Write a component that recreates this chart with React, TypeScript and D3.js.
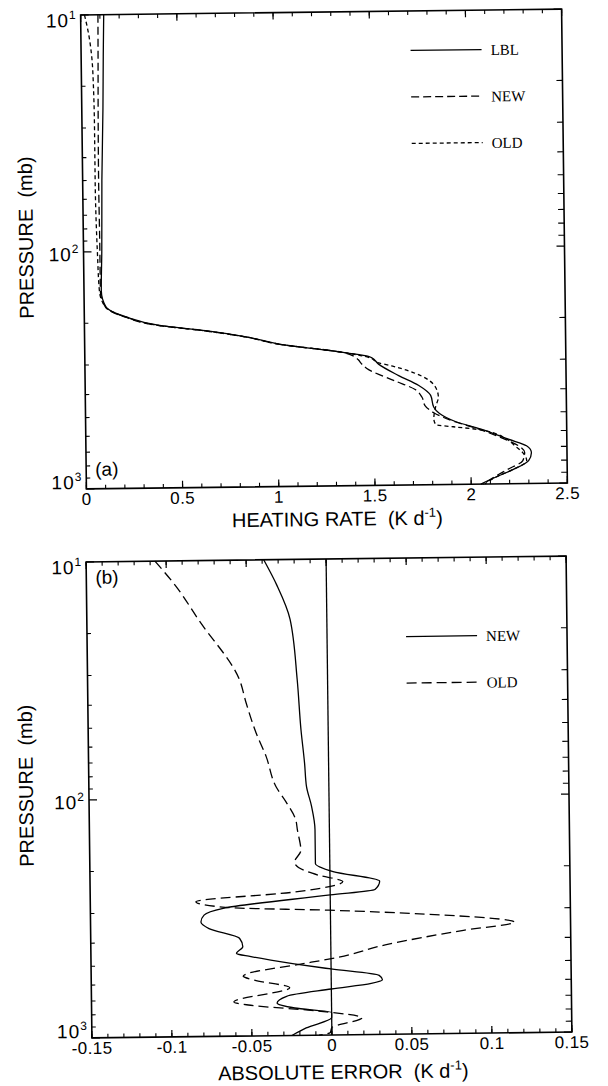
import React from "react";
import * as d3 from "d3";

// shared pressure axis (mb), log scale, 10 at top
const pressureTicks = [10, 100, 1000];
const pressureExp = ["1", "2", "3"];

// (a) heating rate profiles, K/day
const heatTicks = [0, 0.5, 1, 1.5, 2, 2.5];

const lblP = [10, 15, 25, 50, 100, 146, 171, 189, 206, 218, 234, 250, 275, 285, 289, 308, 345, 381, 420, 470, 501, 544, 585, 650, 693, 740, 800, 870, 935, 1000];
const lblRate = [0.12, 0.115, 0.11, 0.1, 0.095, 0.09, 0.113, 0.217, 0.39, 0.63, 0.855, 1.005, 1.36, 1.474, 1.49, 1.526, 1.63, 1.734, 1.795, 1.81, 1.84, 1.925, 2.05, 2.2, 2.29, 2.315, 2.3, 2.22, 2.13, 2.05];

const newP = [10, 15, 25, 50, 100, 146, 171, 189, 206, 218, 234, 250, 275, 285, 294, 308, 321, 363, 396, 427, 463, 497, 544, 585, 650, 693, 740, 800, 870, 935, 1000];
const newRate = [0.09, 0.088, 0.085, 0.083, 0.085, 0.085, 0.11, 0.21, 0.38, 0.62, 0.85, 1.0, 1.35, 1.4, 1.42, 1.44, 1.465, 1.61, 1.715, 1.75, 1.765, 1.81, 1.92, 2.04, 2.18, 2.25, 2.28, 2.27, 2.19, 2.12, 2.06];

const oldP = [10, 12, 15, 20, 30, 50, 100, 146, 171, 189, 206, 218, 234, 250, 275, 289, 304, 314, 348, 387, 427, 470, 527, 559, 571, 590, 650, 693, 740, 800, 870, 935, 1000];
const oldRate = [0.02, 0.04, 0.055, 0.062, 0.065, 0.065, 0.072, 0.08, 0.11, 0.215, 0.385, 0.62, 0.85, 1.0, 1.36, 1.48, 1.526, 1.595, 1.75, 1.82, 1.835, 1.82, 1.81, 1.82, 1.91, 2.05, 2.19, 2.23, 2.27, 2.29, 2.22, 2.13, 2.07];

// (b) absolute error against LBL, K/day
const errTicks = [-0.15, -0.1, -0.05, 0, 0.05, 0.1, 0.15];

const errNewP = [10, 12.8, 17.8, 31.9, 52, 72, 90, 109, 137, 190, 206, 227, 246, 258, 290, 309, 330, 352, 388, 421, 449, 464, 500, 528, 565, 590, 610, 641, 684, 730, 767, 805, 845, 931, 1000];
const errNew = [-0.039, -0.031, -0.023, -0.019, -0.017, -0.015, -0.014, -0.011, -0.009, -0.009, 0.002, 0.031, 0.028, 0.0, -0.067, -0.079, -0.081, -0.076, -0.057, -0.055, -0.059, -0.05, -0.023, 0.0, 0.03, 0.032, 0.025, 0.0, -0.028, -0.034, -0.023, 0.0, 0.0, -0.016, -0.025];

const errOldP = [10, 12.8, 17.8, 31.9, 40, 53.5, 67, 90, 104, 124, 137, 167, 187, 203, 213, 227, 250, 271, 288, 299, 314, 343, 369, 421, 471, 502, 546, 560, 583, 630, 718, 741, 791, 850, 931, 977, 1000];
const errOld = [-0.107, -0.094, -0.08, -0.055, -0.051, -0.045, -0.039, -0.033, -0.027, -0.021, -0.02, -0.018, -0.022, -0.016, -0.007, 0.008, -0.023, -0.084, -0.064, -0.001, 0.059, 0.115, 0.083, 0.034, 0.005, -0.019, -0.052, -0.055, -0.048, -0.026, -0.061, -0.052, -0.009, 0.019, 0.0, -0.001, -0.008];

const SANS = "'Liberation Sans', Arial, Helvetica, sans-serif";
const SERIF = "'Liberation Serif', 'Times New Roman', serif";
const TILT = -0.7; // the scan is slightly rotated

type Series = { p: number[]; v: number[]; dash?: string };
type Legend = { name: string; dash?: string };

type PanelProps = {
  left: number;
  top: number;
  width: number;
  height: number;
  xDomain: [number, number];
  xTicks: number[];
  xMinor: number;
  series: Series[];
  legend: Legend[];
  legendX: number;
  legendY: number;
  tag: string;
  tagTop: boolean;
  title: string;
  titleDx: number;
  titleDy: number;
  zeroLine?: boolean;
};

const Panel = (props: PanelProps) => {
  const { left, top, width, height, xDomain, xTicks, xMinor, series, legend } = props;
  const right = left + width;
  const bottom = top + height;
  const x = d3.scaleLinear().domain(xDomain).range([left, right]);
  const y = d3.scaleLog().domain([10, 1000]).range([top, bottom]);
  const line = d3
    .line<[number, number]>()
    .x((d) => x(d[1]))
    .y((d) => y(d[0]))
    .curve(d3.curveMonotoneY);

  const minorX = d3.range(xDomain[0], xDomain[1] + xMinor / 2, xMinor);
  const minorY = pressureTicks.slice(0, -1).flatMap((d) => d3.range(2, 10).map((k) => k * d));
  const cx = left + width / 2;
  const cy = top + height / 2;

  return (
    <g transform={`rotate(${TILT} ${cx} ${cy})`} stroke="#000" fill="none">
      {/* ticks, all pointing inward */}
      {minorX.map((d, i) => (
        <g key={"mx" + i} strokeWidth={1.1}>
          <line x1={x(d)} x2={x(d)} y1={bottom} y2={bottom - 4} />
          <line x1={x(d)} x2={x(d)} y1={top} y2={top + 4} />
        </g>
      ))}
      {xTicks.map((d, i) => (
        <g key={"Mx" + i} strokeWidth={1.2}>
          <line x1={x(d)} x2={x(d)} y1={bottom} y2={bottom - 7} />
          <line x1={x(d)} x2={x(d)} y1={top} y2={top + 7} />
        </g>
      ))}
      {minorY.map((d, i) => (
        <g key={"my" + i} strokeWidth={1.1}>
          <line x1={left} x2={left + 4} y1={y(d)} y2={y(d)} />
          <line x1={right} x2={right - 6} y1={y(d)} y2={y(d)} />
        </g>
      ))}
      {pressureTicks.map((d, i) => (
        <g key={"My" + i} strokeWidth={1.2}>
          <line x1={left} x2={left + 8} y1={y(d)} y2={y(d)} />
          <line x1={right} x2={right - 8} y1={y(d)} y2={y(d)} />
        </g>
      ))}

      {props.zeroLine && <line x1={x(0)} x2={x(0)} y1={top} y2={bottom} strokeWidth={1.3} />}

      {series.map((s, i) => (
        <path
          key={"s" + i}
          d={line(s.p.map((p, j) => [p, s.v[j]] as [number, number])) || ""}
          strokeWidth={1.3}
          strokeDasharray={s.dash}
        />
      ))}

      <rect x={left} y={top} width={width} height={height} strokeWidth={1.6} />

      {/* legend */}
      {legend.map((l, i) => (
        <g key={"l" + i}>
          <line
            x1={props.legendX}
            x2={props.legendX + 71}
            y1={props.legendY + i * 46.5}
            y2={props.legendY + i * 46.5}
            strokeWidth={1.3}
            strokeDasharray={l.dash}
          />
          <text
            x={props.legendX + 80}
            y={props.legendY + i * 46.5 + 5.5}
            stroke="none"
            fill="#000"
            fontFamily={SERIF}
            fontSize={15}
          >
            {l.name}
          </text>
        </g>
      ))}

      <g stroke="none" fill="#000" fontFamily={SANS}>
        {xTicks.map((d, i) => (
          <text key={"tx" + i} x={x(d)} y={bottom + 16} textAnchor="middle" fontSize={17} letterSpacing={0.4}>
            {String(d)}
          </text>
        ))}
        {pressureTicks.map((d, i) => (
          <text
            key={"ty" + i}
            x={left - 4}
            y={y(d) + (i === 0 ? 12 : i === pressureTicks.length - 1 ? 0 : 9)}
            textAnchor="end"
            fontSize={19}
            letterSpacing={1}
          >
            10
            <tspan dy={-8} fontSize={12}>
              {pressureExp[i]}
            </tspan>
          </text>
        ))}
        <text
          x={left + 9}
          y={props.tagTop ? top + 22 : bottom - 13}
          fontSize={19}
        >
          {props.tag}
        </text>
        <text
          x={cx + props.titleDx}
          y={bottom + props.titleDy}
          textAnchor="middle"
          fontSize={20}
          style={{ whiteSpace: "pre" }}
        >
          {props.title + "  (K d"}
          <tspan dy={-8} fontSize={13}>
            -1
          </tspan>
          <tspan dy={8}>)</tspan>
        </text>
        <text
          transform={`translate(${26},${cy - 15}) rotate(-90)`}
          textAnchor="middle"
          dominantBaseline="central"
          fontSize={20}
          style={{ whiteSpace: "pre" }}
        >
          {"PRESSURE  (mb)"}
        </text>
      </g>
    </g>
  );
};

export default function App() {
  return (
    <svg
      width={608}
      height={1086}
      style={{ position: "absolute", left: 0, top: 0, background: "#fff" }}
    >
      <Panel
        left={83.5}
        top={12}
        width={481}
        height={474}
        xDomain={[0, 2.5]}
        xTicks={heatTicks}
        xMinor={0.1}
        series={[
          { p: lblP, v: lblRate },
          { p: newP, v: newRate, dash: "8,4" },
          { p: oldP, v: oldRate, dash: "4,3" },
        ]}
        legend={[
          { name: "LBL" },
          { name: "NEW", dash: "8,4" },
          { name: "OLD", dash: "4,3" },
        ]}
        legendX={413}
        legendY={51.5}
        tag="(a)"
        tagTop={false}
        title="HEATING RATE"
        titleDx={10}
        titleDy={40}
      />
      <Panel
        left={89}
        top={559}
        width={480}
        height={476}
        xDomain={[-0.15, 0.15]}
        xTicks={errTicks}
        xMinor={0.01}
        series={[
          { p: errNewP, v: errNew },
          { p: errOldP, v: errOld, dash: "10,5" },
        ]}
        legend={[{ name: "NEW" }, { name: "OLD", dash: "10,5" }]}
        legendX={408}
        legendY={637.5}
        tag="(b)"
        tagTop={true}
        title="ABSOLUTE ERROR"
        titleDx={11}
        titleDy={44}
        zeroLine
      />
    </svg>
  );
}
